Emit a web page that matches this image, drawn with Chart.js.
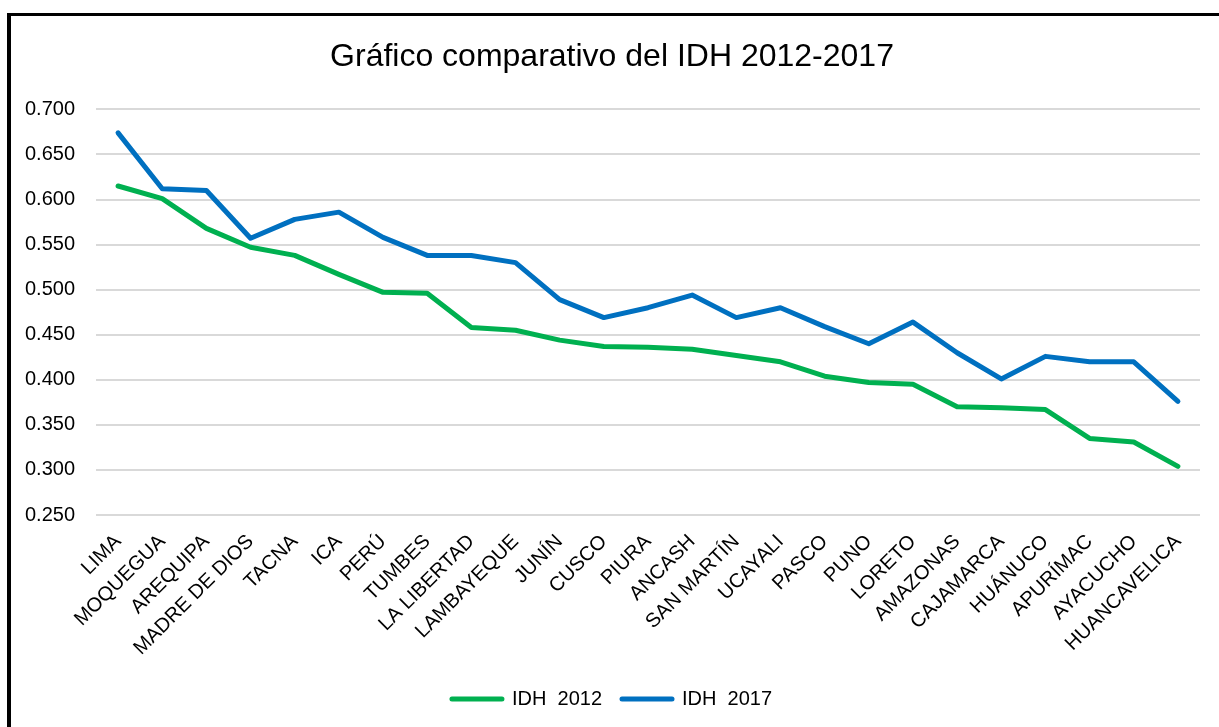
<!DOCTYPE html>
<html>
<head>
<meta charset="utf-8">
<script src="https://cdn.jsdelivr.net/npm/chart.js@4.4.1/dist/chart.umd.min.js"></script>
<style>
    html, body { margin: 0; padding: 0; background: #fff; overflow: hidden; }
    #wrap { position: relative; width: 1219px; height: 727px; }
    #frame {
        position: absolute; left: 7px; top: 13px; width: 1230px; height: 730px;
        border-left: 4px solid #000; border-top: 3px solid #000;
        pointer-events: none;
    }
</style>
</head>
<body>
<div id="wrap">
    <canvas id="lineChart" width="1219" height="727"></canvas>
    <div id="frame"></div>
</div>
<script>
const regiones = [
    'LIMA', 'MOQUEGUA', 'AREQUIPA', 'MADRE DE DIOS', 'TACNA', 'ICA', 'PERÚ',
    'TUMBES', 'LA LIBERTAD', 'LAMBAYEQUE', 'JUNÍN', 'CUSCO', 'PIURA', 'ANCASH',
    'SAN MARTÍN', 'UCAYALI', 'PASCO', 'PUNO', 'LORETO', 'AMAZONAS', 'CAJAMARCA',
    'HUÁNUCO', 'APURÍMAC', 'AYACUCHO', 'HUANCAVELICA'
];

const idh_2012 = [
    0.615, 0.601, 0.568, 0.547, 0.538, 0.517, 0.497, 0.496, 0.458, 0.455,
    0.444, 0.437, 0.436, 0.434, 0.427, 0.420, 0.404, 0.397, 0.395, 0.370,
    0.369, 0.367, 0.335, 0.331, 0.304
];

const idh_2017 = [
    0.674, 0.612, 0.610, 0.557, 0.578, 0.586, 0.558, 0.538, 0.538, 0.530,
    0.489, 0.469, 0.480, 0.494, 0.469, 0.480, 0.459, 0.440, 0.464, 0.430,
    0.401, 0.426, 0.420, 0.420, 0.376
];

const y_min = 0.25;
const y_max = 0.7;
const y_step = 0.05;

// no Arial Narrow here, so sizes are picked to match the text widths
const font_family = "'Liberation Sans Narrow', 'Arial Narrow', 'Liberation Sans', Arial, sans-serif";

function legendLabels(chart) {
    let items = Chart.defaults.plugins.legend.labels.generateLabels(chart);
    return items.map(function(item) {
        let ds = chart.data.datasets[item.datasetIndex];
        item.pointStyle = 'line';
        item.strokeStyle = ds.borderColor;
        item.fillStyle = ds.borderColor;
        item.lineWidth = 5;
        item.lineCap = 'round';
        return item;
    });
}

function lineChart(labels, result) {
    new Chart(document.getElementById("lineChart"), {
        type: 'line',
        data: {
            labels: labels,
            datasets: result,
        },
        options: {
            responsive: false,
            animation: false,
            layout: {
                padding: { top: 0, right: 19, bottom: 8, left: 24 }
            },
            elements: {
                point: { radius: 0 },
                line: { tension: 0 }
            },
            plugins: {
                title: {
                    display: true,
                    text: 'Gráfico comparativo del IDH 2012-2017',
                    color: '#000',
                    font: { family: font_family, size: 32, weight: 'normal' },
                    padding: { top: 38, bottom: 33 }
                },
                legend: {
                    position: 'bottom',
                    labels: {
                        usePointStyle: true,
                        pointStyleWidth: 50,
                        boxHeight: 5,
                        padding: 20,
                        color: '#000',
                        font: { family: font_family, size: 20 },
                        generateLabels: legendLabels
                    }
                },
                tooltip: { enabled: false }
            },
            scales: {
                x: {
                    offset: true,
                    grid: { display: false },
                    border: { display: false },
                    ticks: {
                        autoSkip: false,
                        maxRotation: 45,
                        minRotation: 45,
                        padding: 7,
                        color: '#000',
                        font: { family: font_family, size: 20 }
                    },
                    afterFit: function(scale) { scale.height = 154; }
                },
                y: {
                    min: y_min,
                    max: y_max,
                    border: { display: false },
                    grid: { color: '#d9d9d9', lineWidth: 2, drawTicks: false },
                    ticks: {
                        stepSize: y_step,
                        padding: 21,
                        color: '#000',
                        font: { family: font_family, size: 20 },
                        callback: function(value) { return value.toFixed(3); }
                    },
                    afterFit: function(scale) { scale.width = 72; }
                }
            }
        }
    });
}

lineChart(regiones, [
    {
        label: 'IDH  2012',
        data: idh_2012,
        borderColor: '#00B050',
        backgroundColor: '#00B050',
        borderWidth: 5,
        borderCapStyle: 'round',
        borderJoinStyle: 'round',
        fill: false
    },
    {
        label: 'IDH  2017',
        data: idh_2017,
        borderColor: '#0070C0',
        backgroundColor: '#0070C0',
        borderWidth: 5,
        borderCapStyle: 'round',
        borderJoinStyle: 'round',
        fill: false
    }
]);
</script>
</body>
</html>
